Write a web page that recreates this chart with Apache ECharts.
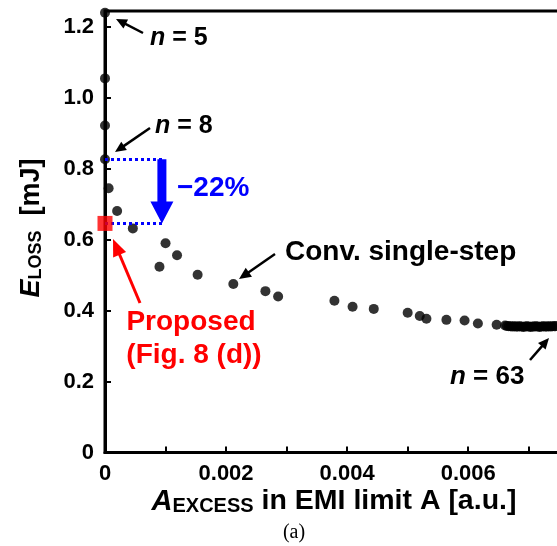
<!DOCTYPE html>
<html><head><meta charset="utf-8">
<script src="https://cdn.jsdelivr.net/npm/echarts@6/dist/echarts.min.js"></script>
<style>html,body{margin:0;padding:0;background:#fff}#c{width:557px;height:546px}</style>
</head><body><div id="c"></div>
<script>
// Conventional single-step results (n = 5 ... 63)
const convX = [0, 0, 0, 0,
  0.00006, 0.00020, 0.00046, 0.00090, 0.00100, 0.00119, 0.00153, 0.00212, 0.00265, 0.00286,
  0.00379, 0.00409, 0.00444, 0.00500, 0.00520, 0.00531, 0.00564, 0.00594, 0.00616, 0.00647,
  0.00661, 0.00664, 0.00667, 0.00670, 0.00673, 0.00676, 0.00679, 0.00682, 0.00685, 0.00688,
  0.00691, 0.00694, 0.00697, 0.00700, 0.00703, 0.00706, 0.00709, 0.00712, 0.00715, 0.00718,
  0.00721, 0.00724, 0.00727, 0.00730, 0.00733, 0.00736, 0.00739, 0.00742, 0.00745];
const convY = [1.240, 1.055, 0.922, 0.827,
  0.745, 0.681, 0.632, 0.524, 0.590, 0.556, 0.501, 0.475, 0.455, 0.440,
  0.428, 0.411, 0.405, 0.394, 0.385, 0.377, 0.374, 0.372, 0.364, 0.360,
  0.358, 0.357, 0.356, 0.356, 0.355, 0.356, 0.355, 0.355, 0.356, 0.355,
  0.354, 0.355, 0.356, 0.355, 0.354, 0.355, 0.355, 0.356, 0.355, 0.354,
  0.355, 0.356, 0.355, 0.355, 0.356, 0.355, 0.356, 0.356, 0.357];
// Proposed (Fig. 8 (d))
const propX = [0];
const propY = [0.646];
// reference level n = 8 and reduction
const refLevel = 0.827;
const propLevel = 0.646;
const guideEndX = 0.00098;
const arrowX = 0.00094;
// axis ticks
const xTickLabels = ['0', '0.002', '0.004', '0.006'];
const yTickLabels = ['0', '0.2', '0.4', '0.6', '0.8', '1.0', '1.2'];

const chart = echarts.init(document.getElementById('c'), null, {renderer: 'canvas'});
const FONT = 'Liberation Sans, Arial, sans-serif';

const convData = convX.map((x, i) => [x, convY[i]]);
const propData = propX.map((x, i) => [x, propY[i]]);

chart.setOption({
  animation: false,
  grid: {left: 105, top: 11, width: 454, height: 441.5, containLabel: false, outerBoundsMode: 'none',
         show: true, borderColor: '#000', borderWidth: 3, backgroundColor: 'transparent'},
  xAxis: {
    type: 'value', min: 0, max: 0.0075, interval: 0.001,
    axisLine: {lineStyle: {color: '#000', width: 3}},
    axisTick: {inside: true, length: 6, lineStyle: {color: '#000', width: 2}},
    splitLine: {show: false},
    axisLabel: {
      color: '#000', fontFamily: FONT, fontWeight: 'bold', fontSize: 22, margin: 10,
      formatter: v => { const k = Math.round(v * 1e4); return (k % 20 === 0 && Math.abs(v * 1e4 - k) < 1e-6) ? xTickLabels[k / 20] : ''; }
    }
  },
  yAxis: {
    type: 'value', min: 0, max: 1.245, interval: 0.2,
    axisLine: {lineStyle: {color: '#000', width: 3}},
    axisTick: {inside: true, length: 6, lineStyle: {color: '#000', width: 2}},
    splitLine: {show: false},
    axisLabel: {
      color: '#000', fontFamily: FONT, fontWeight: 'bold', fontSize: 22, margin: 11,
      formatter: v => { const k = Math.round(v * 10); return (k % 2 === 0 && Math.abs(v * 10 - k) < 1e-6) ? yTickLabels[k / 2] : ''; }
    }
  },
  series: [
    {
      type: 'scatter', data: convData, symbolSize: 10, itemStyle: {color: '#000'}, z: 3,
      markLine: {
        silent: true, symbol: 'none', label: {show: false},
        lineStyle: {color: '#0000ff', width: 3, type: [3, 3]},
        data: [
          [{coord: [0, refLevel]}, {coord: [guideEndX, refLevel]}],
          [{coord: [0, propLevel]}, {coord: [guideEndX, propLevel]}]
        ]
      }
    },
    {type: 'scatter', data: propData, symbol: 'rect', symbolSize: 15, itemStyle: {color: '#ff0000'}, z: 5}
  ]
});

function arrow(x1, y1, x2, y2, color, w, hl, hw) {
  const dx = x2 - x1, dy = y2 - y1, L = Math.hypot(dx, dy);
  const ux = dx / L, uy = dy / L, px = -uy, py = ux;
  const bx = x2 - ux * hl, by = y2 - uy * hl;
  return [
    {type: 'line', shape: {x1: x1, y1: y1, x2: bx + ux, y2: by + uy}, style: {stroke: color, lineWidth: w}, z: 10},
    {type: 'polygon', shape: {points: [[x2, y2], [bx + px * hw / 2, by + py * hw / 2], [bx - px * hw / 2, by - py * hw / 2]]}, style: {fill: color}, z: 10}
  ];
}

const pTop = chart.convertToPixel({gridIndex: 0}, [arrowX, refLevel]);
const pBot = chart.convertToPixel({gridIndex: 0}, [arrowX, propLevel]);
const ax = pTop[0];
const shaftW = 9, headW = 23, headL = 22;
const blueArrow = {
  type: 'polygon', z: 10,
  shape: {points: [
    [ax - shaftW / 2, pTop[1]], [ax + shaftW / 2, pTop[1]], [ax + shaftW / 2, pBot[1] - headL],
    [ax + headW / 2, pBot[1] - headL], [ax, pBot[1]], [ax - headW / 2, pBot[1] - headL],
    [ax - shaftW / 2, pBot[1] - headL]
  ]},
  style: {fill: '#0000ff'}
};

function txt(x, y, text, opts) {
  return {type: 'text', x: x, y: y, z: 20, style: Object.assign({text: text, fill: '#000', font: 'bold 24px ' + FONT, textAlign: 'left', textVerticalAlign: 'middle'}, opts || {})};
}
function nLabel(x, y, num, size) {
  return {type: 'text', x: x, y: y, z: 20, style: {
    text: '{i|n}{t| = ' + num + '}', textAlign: 'left', textVerticalAlign: 'middle',
    rich: {i: {fontFamily: FONT, fontWeight: 'bold', fontStyle: 'italic', fontSize: size, fill: '#000', color: '#000'},
           t: {fontFamily: FONT, fontWeight: 'bold', fontSize: size, fill: '#000', color: '#000'}}
  }};
}

const graphics = [].concat(
  arrow(143, 33, 116, 19, '#000', 2.5, 11, 10),
  arrow(150, 128, 115, 152, '#000', 2.5, 11, 10),
  arrow(275, 254, 239, 279, '#000', 2.5, 12, 11),
  arrow(140, 303, 113, 239, '#ff0000', 3, 17, 14),
  arrow(530, 360, 549, 338, '#000', 2.5, 11, 10),
  [blueArrow,
   nLabel(150, 38, '5', 25),
   nLabel(155, 126, '8', 25),
   nLabel(450, 377, '63', 26),
   txt(177, 188, '\u221222%', {fill: '#0000ff', font: 'bold 28px ' + FONT}),
   txt(285, 252, 'Conv. single-step', {font: 'bold 28px ' + FONT}),
   txt(191, 322, 'Proposed', {fill: '#ff0000', font: 'bold 28px ' + FONT, textAlign: 'center'}),
   txt(194, 355, '(Fig. 8 (d))', {fill: '#ff0000', font: 'bold 28px ' + FONT, textAlign: 'center'}),
   // x axis title
   {type: 'text', x: 334, y: 501, z: 20, style: {
     text: '{a|A}{s|EXCESS}{b| in EMI limit A [a.u.]}', textAlign: 'center', textVerticalAlign: 'middle',
     rich: {
       a: {fontFamily: FONT, fontWeight: 'bold', fontStyle: 'italic', fontSize: 29, lineHeight: 30, verticalAlign: 'bottom', fill: '#000', color: '#000'},
       s: {fontFamily: FONT, fontWeight: 'bold', fontSize: 20, lineHeight: 16, verticalAlign: 'bottom', fill: '#000', color: '#000'},
       b: {fontFamily: FONT, fontWeight: 'bold', fontSize: 28.5, lineHeight: 30, verticalAlign: 'bottom', fill: '#000', color: '#000'}
     }
   }},
   // y axis title
   {type: 'text', x: 30, y: 228, rotation: Math.PI / 2, z: 20, style: {
     text: '{a|E}{s|LOSS}{b|  [mJ]}', textAlign: 'center', textVerticalAlign: 'middle',
     rich: {
       a: {fontFamily: FONT, fontWeight: 'bold', fontStyle: 'italic', fontSize: 27, lineHeight: 30, verticalAlign: 'bottom', fill: '#000', color: '#000'},
       s: {fontFamily: FONT, fontWeight: 'bold', fontSize: 18, lineHeight: 16, verticalAlign: 'bottom', fill: '#000', color: '#000'},
       b: {fontFamily: FONT, fontWeight: 'bold', fontSize: 27, lineHeight: 30, verticalAlign: 'bottom', fill: '#000', color: '#000'}
     }
   }},
   {type: 'text', x: 294, y: 533, z: 20, style: {text: '(a)', font: '20px Liberation Serif, Times New Roman, serif', fill: '#000', textAlign: 'center', textVerticalAlign: 'middle'}}
  ]
);

chart.setOption({graphic: graphics});
</script>
</body></html>
